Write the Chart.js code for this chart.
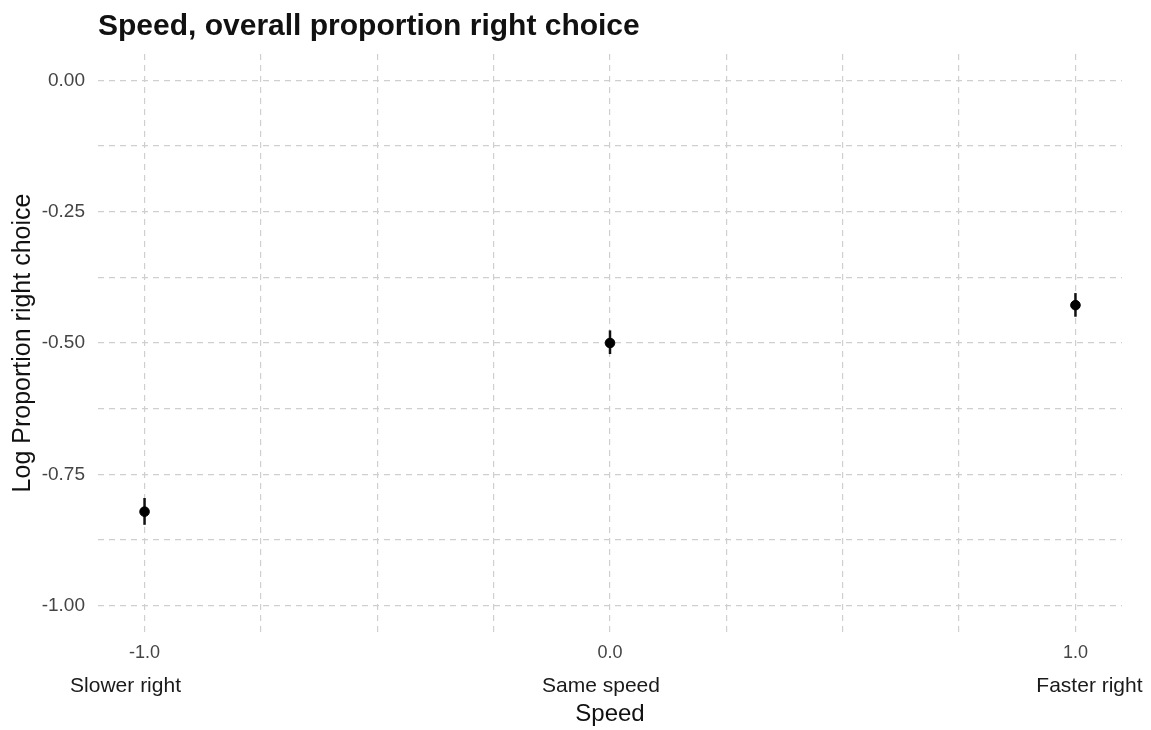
<!DOCTYPE html>
<html>
<head>
<meta charset="utf-8">
<title>Speed, overall proportion right choice</title>
<script src="https://cdn.jsdelivr.net/npm/chart.js@4.4.1/dist/chart.umd.min.js"></script>
<style>
  body { margin: 0; background: #fff; }
  #wrap { width: 1151px; height: 730px; }
</style>
</head>
<body>
<div id="wrap"><canvas id="speed-chart" width="1151" height="730"></canvas></div>
<script>
// data
const speedValues = [-1, 0, 1];
const speedLabels = ['Slower right', 'Same speed', 'Faster right'];
const xTickLabels = ['-1.0', '0.0', '1.0'];
const logProp = [-0.821, -0.500, -0.428];
const ciLower = [-0.846, -0.521, -0.450];
const ciUpper = [-0.795, -0.476, -0.405];
const yTicks = [-1, -0.75, -0.5, -0.25, 0];
const yTickLabels = ['-1.00', '-0.75', '-0.50', '-0.25', '0.00'];

// grid lines: majors plus halfway minors
const xGrid = [-1, -0.75, -0.5, -0.25, 0, 0.25, 0.5, 0.75, 1];
const yGrid = [];
yTicks.forEach((v, i) => {
    yGrid.push(v);
    if (i < yTicks.length - 1) yGrid.push((v + yTicks[i + 1]) / 2);
});

function labelFor(values, labels, v) {
    const i = values.findIndex(x => Math.abs(x - v) < 1e-9);
    return i >= 0 ? labels[i] : '';
}

Chart.defaults.font.family = '"Liberation Sans", Arial, sans-serif';

// vertical error bars drawn through the chart's scales
const errorBars = {
    id: 'errorBars',
    beforeDatasetsDraw(chart) {
        const {ctx, scales: {x, y}} = chart;
        ctx.save();
        ctx.strokeStyle = '#111';
        ctx.lineWidth = 2.5;
        speedValues.forEach((s, i) => {
            const px = x.getPixelForValue(s);
            ctx.beginPath();
            ctx.moveTo(px, y.getPixelForValue(ciLower[i]));
            ctx.lineTo(px, y.getPixelForValue(ciUpper[i]));
            ctx.stroke();
        });
        ctx.restore();
    }
};

// category names under the numeric x ticks
const categoryNames = {
    id: 'categoryNames',
    afterDraw(chart) {
        const {ctx, scales: {x}} = chart;
        const nudge = [-19, -9, 14];
        ctx.save();
        ctx.font = '21px "Liberation Sans", Arial, sans-serif';
        ctx.fillStyle = '#1a1a1a';
        ctx.textAlign = 'center';
        ctx.textBaseline = 'middle';
        speedValues.forEach((s, i) => {
            ctx.fillText(speedLabels[i], x.getPixelForValue(s) + nudge[i], 686);
        });
        ctx.restore();
    }
};

const gridStyle = {color: '#cfcfcf', lineWidth: 1.2, drawTicks: false};

const ctx = document.getElementById('speed-chart').getContext('2d');
new Chart(ctx, {
    type: 'scatter',
    data: {
        datasets: [{
            data: speedValues.map((s, i) => ({x: s, y: logProp[i]})),
            backgroundColor: '#000',
            borderColor: '#000',
            pointRadius: 4.8,
            pointHoverRadius: 4.8
        }]
    },
    options: {
        responsive: false,
        animation: false,
        layout: {padding: {left: 0, right: 29, top: 0, bottom: 0}},
        plugins: {
            legend: {display: false},
            tooltip: {enabled: false},
            title: {
                display: true,
                text: 'Speed, overall proportion right choice',
                align: 'start',
                fullSize: false,
                color: '#111',
                font: {size: 30, weight: 'bold'},
                padding: {top: 9, bottom: 9}
            }
        },
        scales: {
            x: {
                type: 'linear',
                min: -1.1,
                max: 1.1,
                afterBuildTicks: scale => { scale.ticks = xGrid.map(v => ({value: v})); },
                afterFit: scale => { scale.height = 98; },
                border: {display: false, dash: [6, 5]},
                grid: gridStyle,
                ticks: {
                    autoSkip: false,
                    maxRotation: 0,
                    padding: 10,
                    color: '#444',
                    font: {size: 18},
                    callback: v => labelFor(speedValues, xTickLabels, v)
                },
                title: {
                    display: true,
                    text: 'Speed',
                    color: '#111',
                    font: {size: 24},
                    padding: {top: 0, bottom: 1}
                }
            },
            y: {
                type: 'linear',
                min: -1.05,
                max: 0.05,
                afterBuildTicks: scale => { scale.ticks = yGrid.slice().sort((a, b) => a - b).map(v => ({value: v})); },
                afterFit: scale => { scale.width = 98; },
                border: {display: false, dash: [6, 5]},
                grid: gridStyle,
                ticks: {
                    autoSkip: false,
                    padding: 13,
                    color: '#444',
                    font: {size: 19},
                    callback: v => labelFor(yTicks, yTickLabels, v)
                },
                title: {
                    display: true,
                    text: 'Log Proportion right choice',
                    color: '#111',
                    font: {size: 25},
                    padding: {top: 8, bottom: 0}
                }
            }
        }
    },
    plugins: [errorBars, categoryNames]
});
</script>
</body>
</html>
